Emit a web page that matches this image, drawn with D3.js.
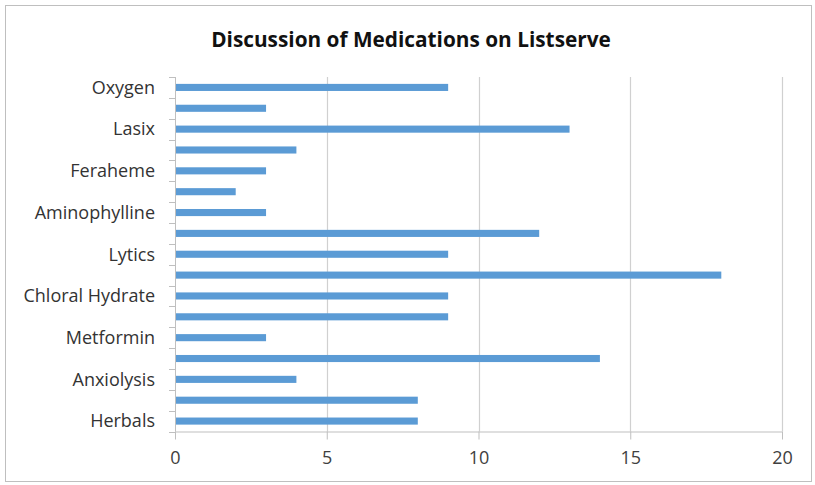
<!DOCTYPE html>
<html>
<head>
<meta charset="utf-8">
<script src="https://cdn.jsdelivr.net/npm/d3@7"></script>
<style>
  html, body { margin: 0; padding: 0; background: #fff; }
  svg { display: block; }
  text { font-family: "Open Sans", Lato, "Liberation Sans", sans-serif; fill: #404040; }
</style>
</head>
<body>
<svg id="chart" width="815" height="485"></svg>
<script>
// Categories bottom-to-top (unlabelled categories in the reference are left blank)
const categories = ["Herbals", "", "Anxiolysis", "", "Metformin", "", "Chloral Hydrate", "", "Lytics", "", "Aminophylline", "", "Feraheme", "", "Lasix", "", "Oxygen"];
const values = [8, 8, 4, 14, 3, 9, 9, 18, 9, 12, 3, 2, 3, 4, 13, 3, 9];
const xTicks = [0, 5, 10, 15, 20];
const title = "Discussion of Medications on Listserve";

const svg = d3.select("#chart");
const pLeft = 175, pRight = 782, pTop = 77, pBottom = 431.5;

// outer chart border
svg.append("rect")
  .attr("x", 5.5).attr("y", 5.5).attr("width", 806).attr("height", 476)
  .attr("fill", "#fff").attr("stroke", "#bfbfbf").attr("stroke-width", 1);

const x = d3.scaleLinear().domain([0, 20]).range([pLeft, pRight]);
const idx = d3.range(categories.length);
const y = d3.scaleBand().domain(idx).range([pBottom, pTop]).paddingInner(0.66).paddingOuter(0.33);
const yOuter = d3.scaleBand().domain(idx).range([pBottom, pTop]);

// gridlines
svg.append("g").selectAll("line").data(xTicks.filter(d => d > 0)).join("line")
  .attr("x1", d => Math.round(x(d)) + 0.5).attr("x2", d => Math.round(x(d)) + 0.5)
  .attr("y1", pTop).attr("y2", pBottom)
  .attr("stroke", "#d0d0d0").attr("stroke-width", 1.2);

// bars
svg.append("g").selectAll("rect").data(values).join("rect")
  .attr("x", x(0))
  .attr("y", (d, i) => y(i))
  .attr("width", d => x(d) - x(0))
  .attr("height", y.bandwidth())
  .attr("fill", "#5b9bd5");

// x axis
const xAxis = d3.axisBottom(x).tickValues(xTicks).tickSize(8).tickPadding(12).tickFormat(d3.format("d"));
const gx = svg.append("g").attr("transform", `translate(0,${pBottom})`).call(xAxis);
gx.select(".domain").attr("stroke", "#bfbfbf").attr("d", `M${pLeft},0.5H${pRight}`);
gx.selectAll(".tick line").attr("stroke", "#bfbfbf");
gx.selectAll(".tick text").style("font-size", "18px").style("font-family", "'Open Sans', sans-serif").attr("fill", "#404040");

// y axis: ticks at category boundaries
const boundaries = d3.range(categories.length + 1).map(i => pBottom - i * yOuter.step());
svg.append("g").selectAll("line").data(boundaries).join("line")
  .attr("x1", pLeft - 6).attr("x2", pLeft)
  .attr("y1", d => Math.round(d) + 0.5).attr("y2", d => Math.round(d) + 0.5)
  .attr("stroke", "#bfbfbf");
svg.append("line")
  .attr("x1", pLeft + 0.5).attr("x2", pLeft + 0.5).attr("y1", pTop).attr("y2", pBottom)
  .attr("stroke", "#bfbfbf");

svg.append("g").selectAll("text").data(idx.filter(i => categories[i] !== "")).join("text")
  .attr("x", 155)
  .attr("y", i => yOuter(i) + yOuter.bandwidth() / 2)
  .attr("dy", "0.35em")
  .attr("text-anchor", "end")
  .style("font-size", "18px")
  .style("fill", "#333")
  .text(i => categories[i]);

// title
svg.append("text")
  .attr("x", 411).attr("y", 47)
  .attr("text-anchor", "middle")
  .style("font-size", "20.8px").style("font-weight", "bold")
  .style("fill", "#111")
  .text(title);
</script>
</body>
</html>
